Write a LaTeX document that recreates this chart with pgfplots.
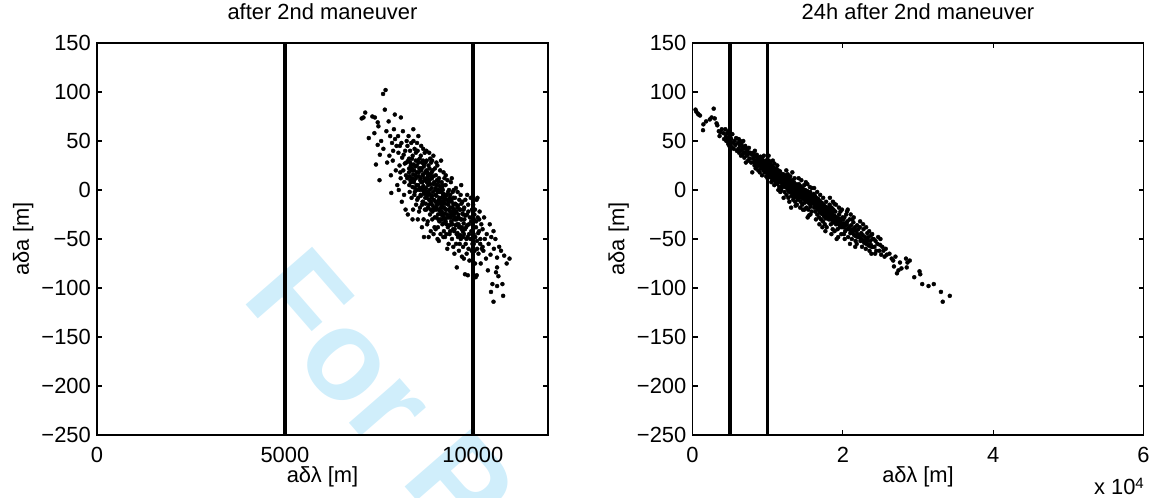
\documentclass[border=0pt]{standalone}
\usepackage{pgfplots}
\pgfplotsset{compat=1.18}
\usepackage{fontspec}
\setmainfont{Liberation Sans}
\definecolor{wm}{RGB}{208,238,251}
\newcommand{\fs}{\fontsize{21.9}{26}\selectfont}
\pgfplotsset{
 mystyle/.style={
  scale only axis, width=451pt, height=392pt, anchor=south west,
  ymin=-250, ymax=150,
  ytick={-250,-200,-150,-100,-50,0,50,100,150},
  yticklabels={−250,−200,−150,−100,−50,0,50,100,150},
  tick align=inside, major tick length=5pt,
  axis line style={line width=1.1pt},
  every tick/.style={black, line width=1.1pt},
  tick label style={font=\fs},
  yticklabel style={inner sep=0pt, xshift=-6pt},
  xticklabel style={inner sep=0pt, yshift=-12pt},
  label style={font=\fs},
  title style={font=\fs, at={(axis description cs:0.5,1.0459)}, anchor=base},
  xlabel style={at={(axis description cs:0.5,-0.1199)}, anchor=base},
  ylabel style={at={(axis description cs:-0.1508,0.5)}, anchor=base},
  xlabel={aδλ [m]}, ylabel={aδa [m]},
  scaled ticks=false,
 },
 dots/.style={only marks, mark=*, mark size=2pt, mark options={fill=black, draw=none}},
 vline/.style={black, line width=3.5pt, no marks},
}
\begin{document}
\begin{tikzpicture}
\path[use as bounding box] (0,0) rectangle (1154pt,498pt);
\begin{scope}
\clip (0,0) rectangle (1154pt,498pt);
\node[anchor=base west, inner sep=0pt, rotate=-49, text=wm, font=\fontsize{128}{128}\selectfont\bfseries] at (240.8pt,199.8pt) {For Peer Review};
\end{scope}

\begin{axis}[mystyle, at={(97pt,63pt)},
  xmin=0, xmax=12000, xtick={0,5000,10000}, xticklabels={0,5000,10000},
  title={after 2nd maneuver}]
\addplot[vline] coordinates {(5000,-250) (5000,150)};
\addplot[vline] coordinates {(10000,-250) (10000,150)};
\addplot[dots] coordinates {
(7043,73) (7090,74) (7137,79) (7232,53)
(7327,75) (7393,74) (7469,69) (7488,65) (7422,26) (7469,46) (7380,58)
(7526,36) (7517,10) (7611,98) (7678,102) (7658,82) (7560,50) (7700,60) (7620,42) (7720,28)
(7830,-3) (7924,77) (7800,55) (7850,48) (7880,40) (7900,62) (7950,20) (7780,35) (7970,45) (7820,15) (7990,5) (7870,30) (7930,52) (7760,70)
(8085,74) (8020,38) (8050,25) (8080,12) (8100,48) (8120,33) (8150,20) (8170,-5) (8200,40) (8230,28) (8010,55) (8060,45) (8140,60) (8180,8) (8220,15) (8240,50) (8030,0) (8110,-12) (8160,36) (8210,-20) (8070,18) (8190,27)
(8417,62) (8260,45) (8280,30) (8300,18) (8310,5) (8330,40) (8350,25) (8370,-8) (8390,12) (8400,35) (8420,50) (8440,20) (8460,2) (8480,30) (8490,-15) (8270,-25) (8290,55) (8320,-2) (8340,10) (8360,48) (8380,22) (8410,-20) (8430,8) (8450,42) (8470,15) (8255,12) (8305,32) (8395,-30) (8445,-5) (8485,38)
(8510,25) (8520,-10) (8530,40) (8545,5) (8560,18) (8570,-22) (8585,32) (8600,10) (8610,-5) (8625,45) (8640,22) (8650,-15) (8660,0) (8675,30) (8690,-30) (8700,26) (8700,-48) (8710,12) (8720,38) (8735,-8) (8745,18) (8515,48) (8535,-30) (8555,28) (8580,2) (8595,-18) (8615,35) (8630,8) (8645,-38) (8665,15) (8680,42) (8695,-2) (8725,-20) (8740,28) (8505,0) (8550,55) (8605,22) (8670,-12)
(8755,10) (8760,-20) (8770,30) (8780,-5) (8790,18) (8800,-32) (8810,5) (8820,25) (8830,-15) (8840,38) (8850,0) (8860,-25) (8870,15) (8880,-42) (8890,28) (8900,-8) (8910,12) (8920,-30) (8930,20) (8940,-2) (8950,35) (8960,-18) (8970,8) (8980,-38) (8990,22) (8765,40) (8785,-35) (8805,15) (8825,-48) (8845,10) (8865,32) (8885,-12) (8905,2) (8925,-22) (8945,14) (8965,-10) (8985,-28) (8995,0) (8775,8) (8835,-5) (8915,30) (8955,-45)
(9005,-5) (9015,15) (9025,-28) (9035,5) (9045,-15) (9055,25) (9061,-50) (9070,-38) (9080,0) (9090,-20) (9100,12) (9110,-32) (9120,-8) (9130,20) (9140,-45) (9150,-2) (9160,-25) (9170,8) (9180,-15) (9190,-35) (9200,0) (9210,-18) (9220,18) (9230,-42) (9240,-10) (9010,-40) (9030,28) (9050,-12) (9075,10) (9095,-52) (9115,-2) (9135,-22) (9155,30) (9175,-30) (9195,5) (9215,-48) (9235,-28) (9245,12) (9020,-18) (9085,-30) (9145,-12) (9205,-5)
(9255,-10) (9265,-30) (9275,5) (9285,-20) (9295,-45) (9305,-5) (9315,-25) (9325,10) (9335,-38) (9345,-15) (9355,-55) (9365,0) (9375,-28) (9385,-8) (9395,-42) (9405,-18) (9415,8) (9425,-32) (9435,-12) (9445,-50) (9455,-22) (9465,-2) (9475,-40) (9485,-15) (9495,-30) (9260,-48) (9280,15) (9300,-35) (9320,-60) (9340,-2) (9360,-20) (9380,-45) (9400,-5) (9420,-25) (9440,12) (9460,-35) (9480,-58) (9490,0)
(9505,-20) (9515,-40) (9525,-8) (9540,-30) (9555,-55) (9565,-15) (9573,-79) (9580,-35) (9595,-2) (9605,-48) (9615,-25) (9630,-62) (9640,-10) (9655,-38) (9665,-20) (9680,-50) (9690,5) (9700,-30) (9710,-68) (9720,-12) (9735,-42) (9745,-25) (9510,-65) (9530,-28) (9550,2) (9570,-45) (9590,-18) (9620,-35) (9650,-55) (9675,-5) (9705,-40) (9740,-58)
(9755,-20) (9765,-45) (9775,-30) (9791,-86) (9800,-10) (9810,-55) (9820,-38) (9835,-65) (9845,-25) (9860,-48) (9867,-87) (9875,-15) (9885,-60) (9895,-35) (9910,-72) (9920,-28) (9935,-50) (9945,-8) (9960,-42) (9970,-62) (9980,-20) (9990,-55) (9760,-70) (9850,-5) (9900,-45) (9955,-32)
(10010,-15) (10020,-45) (10030,-30) (10045,-62) (10055,-20) (10076,-89) (10085,-38) (10104,-87) (10110,-52) (10123,-8) (10130,-28) (10150,-65) (10165,-42) (10180,-22) (10195,-55) (10210,-75) (10225,-35) (10240,-60) (10060,-75) (10100,-10)
(10260,-40) (10280,-62) (10300,-28) (10320,-50) (10350,-70) (10370,-45) (10400,-82) (10420,-55) (10450,-35) (10470,-66) (10483,-104) (10490,-48)
(10521,-96) (10550,-42) (10550,-114) (10560,-60) (10600,-50) (10616,-84) (10645,-69) (10645,-79) (10645,-98) (10700,-58) (10680,-88)
(10787,-96) (10806,-108) (10834,-67) (10900,-75) (10976,-70) (10750,-62)
(8305,22) (8320,14) (8335,28) (8350,8) (8365,20) (8380,32) (8395,3) (8410,16) (8425,26) (8440,10) (8455,-2) (8470,24) (8485,12) (8500,5) (8515,18) (8530,30) (8545,-8) (8560,14) (8575,22) (8590,0)
(8605,12) (8615,-6) (8625,20) (8635,2) (8645,28) (8655,8) (8665,-12) (8675,16) (8685,4) (8695,24) (8705,-4) (8715,10) (8725,0) (8735,18) (8745,-14) (8755,2) (8765,20) (8775,-8) (8785,12) (8795,-2) (8805,-18) (8815,8) (8825,16) (8835,-10) (8845,22) (8855,-4) (8865,6) (8875,-20) (8885,12) (8895,-14) (8905,18) (8915,-6) (8935,-16) (8955,6) (8975,-20)
(9005,-12) (9015,2) (9025,-20) (9035,-6) (9045,10) (9055,-15) (9065,-2) (9075,-25) (9085,8) (9095,-10) (9105,-20) (9115,4) (9125,-14) (9135,-30) (9145,0) (9155,-18) (9165,-8) (9175,-22) (9185,2) (9195,-26) (9205,-12) (9215,-34) (9225,-4) (9235,-18) (9245,-8) (9255,-24) (9265,-14) (9275,-32) (9285,-6) (9295,-20) (9315,-10) (9335,-28) (9355,-12) (9375,-36) (9395,-22)
(9410,-28) (9425,-10) (9440,-35) (9455,-18) (9470,-26) (9485,-8) (9500,-42) (9515,-24) (9530,-14) (9545,-36) (9560,-22) (9575,-30) (9590,-44) (9605,-16) (9620,-28) (9635,-38) (9650,-20) (9665,-46) (9680,-30) (9695,-14) (9710,-38) (9725,-24) (9740,-48) (9755,-34) (9770,-18) (9790,-40) (9810,-26) (9830,-50) (9850,-36) (9880,-22)
(10005,-40) (10025,-55) (10040,-25) (10065,-48) (10090,-32) (10115,-60) (10140,-44) (10170,-30) (10200,-50) (10260,-58)
};
\end{axis}

\begin{axis}[mystyle, at={(692.5pt,63pt)},
  xmin=0, xmax=60000, xtick={0,20000,40000,60000}, xticklabels={0,2,4,6},
  title={24h after 2nd maneuver}]
\addplot[vline] coordinates {(5000,-250) (5000,150)};
\addplot[vline] coordinates {(10000,-250) (10000,150)};
\addplot[dots] coordinates {
(400,82) (500,80) (700,78) (800,77) (1000,76) (1450,67) (1400,61) (1800,70)
(2540,74) (2820,83) (2960,73) (2300,72) (3300,66) (3500,60) (3700,59) (3900,62) (3600,55) (3200,68)
(4100,58) (4200,52) (4370,62) (4450,55) (4500,50) (4600,58) (4700,53) (4750,47) (4800,60) (4850,51) (4900,45) (5000,55) (5050,49) (5150,52) (5200,44) (5300,57) (5400,48) (5500,42) (5600,50) (5700,46) (5800,53) (5900,40)
(6050,48) (6100,42) (6150,52) (6200,38) (6300,45) (6350,50) (6400,40) (6450,35) (6500,47) (6600,42) (6650,36) (6700,44) (6750,50) (6800,38) (6850,42) (6900,33) (7000,45) (7050,38) (7100,28) (7200,42) (7250,35) (7300,40) (7400,30) (7450,37) (7500,43) (7600,32) (7700,38) (7800,28) (7900,36) (7950,18)
(8050,32) (8100,38) (8150,28) (8200,35) (8250,25) (8300,40) (8350,30) (8400,22) (8450,34) (8500,28) (8550,36) (8600,24) (8650,31) (8700,27) (8750,20) (8800,33) (8850,25) (8900,30) (8950,18) (9000,28) (9050,34) (9100,22) (9150,30) (9200,26) (9250,15) (9300,31) (9350,24) (9400,28) (9450,20) (9500,35) (9550,25) (9600,18) (9650,28) (9700,22) (9750,30) (9800,14) (9850,24) (9900,20) (9950,27) (9980,12)
(10050,26) (10100,20) (10150,30) (10200,16) (10250,24) (10300,19) (10350,28) (10400,13) (10450,22) (10500,18) (10550,25) (10600,10) (10650,20) (10700,16) (10750,23) (10800,12) (10850,19) (10900,27) (10950,14) (11000,20) (11050,8) (11100,17) (11150,22) (11200,12) (11250,18) (11300,6) (11350,15) (11400,20) (11450,10) (11500,16) (11550,3) (11600,13) (11650,19) (11700,8) (11750,14) (11800,0) (11850,11) (11900,16) (11950,6) (10120,35) (10480,8) (10880,5) (11280,25) (11680,-2) (10020,14) (11420,0) (11980,13) (10680,30)
(12050,10) (12100,16) (12150,5) (12200,12) (12250,-2) (12300,9) (12350,15) (12400,3) (12450,11) (12500,-5) (12550,7) (12600,13) (12650,1) (12700,8) (12750,-8) (12800,5) (12850,11) (12900,-2) (12950,6) (13000,14) (13050,0) (13100,8) (13150,-6) (13200,4) (13250,10) (13300,-3) (13350,5) (13400,-10) (13450,2) (13500,8) (13550,-5) (13600,3) (13650,-12) (13700,0) (13750,6) (13800,-7) (13850,2) (13900,-4) (13950,5) (12120,-8) (12480,20) (12880,-12) (13280,18) (13580,12) (13880,-15) (12680,16) (13120,-18) (13720,-16) (12020,3) (13480,-8)
(14050,3) (14100,-3) (14150,6) (14200,-8) (14250,0) (14300,-5) (14350,4) (14400,-12) (14450,-2) (14500,-7) (14550,2) (14600,-15) (14650,-4) (14700,1) (14750,-9) (14800,-3) (14850,5) (14900,-13) (14950,-6) (15000,0) (15050,-10) (15100,-4) (15150,-18) (15200,-7) (15250,-1) (15300,-12) (15350,-5) (15400,-20) (15450,-9) (15500,-3) (15550,-14) (15600,-8) (15650,-2) (15700,-17) (15750,-10) (15800,-5) (15850,-22) (15900,-12) (15950,-7) (14120,12) (14480,10) (14880,-20) (15280,6) (15680,-25) (14320,-18) (15080,8) (15480,-26) (15880,2) (14680,-20) (14020,-10) (15320,-28) (15620,3)
(16050,-8) (16100,-14) (16150,-4) (16200,-18) (16250,-10) (16300,-6) (16350,-22) (16400,-13) (16450,-8) (16500,-18) (16550,-12) (16600,-25) (16650,-15) (16700,-9) (16750,-20) (16800,-14) (16850,-28) (16900,-17) (16950,-11) (17000,-22) (17050,-15) (17100,-30) (17150,-19) (17200,-13) (17250,-24) (17300,-18) (17350,-32) (17400,-22) (17450,-15) (17500,-27) (17550,-20) (17600,-35) (17650,-24) (17700,-17) (17750,-29) (17800,-22) (17850,-38) (17900,-26) (17950,-19) (16180,2) (16580,-2) (16980,-5) (17380,-8) (17780,-12) (16420,-30) (16880,-35) (17280,-38) (17680,-42)
(18050,-25) (18100,-18) (18150,-30) (18200,-22) (18250,-15) (18300,-28) (18350,-20) (18400,-35) (18450,-25) (18500,-18) (18550,-30) (18600,-23) (18650,-40) (18700,-28) (18750,-20) (18800,-33) (18850,-26) (18900,-42) (18950,-30) (19000,-22) (19100,-35) (19200,-28) (19300,-40) (19400,-32) (19500,-25) (19600,-38) (19700,-30) (19800,-45) (19900,-35) (19950,-28) (18280,-8) (18680,-12) (19080,-15) (19480,-18) (18480,-45) (19180,-50) (19680,-22) (19880,-20) (18880,-14) (19380,-48)
(20050,-30) (20100,-38) (20200,-28) (20300,-42) (20400,-34) (20450,-25) (20500,-40) (20600,-32) (20700,-48) (20800,-38) (20900,-30) (21000,-44) (21100,-36) (21200,-50) (21300,-40) (21400,-33) (21500,-46) (21600,-38) (21700,-52) (21800,-42) (21900,-36) (21950,-48) (20250,-50) (20650,-20) (21050,-25) (21450,-28) (21850,-55) (20950,-55) (20150,-45) (21250,-30) (21650,-58) (20550,-22)
(22050,-40) (22150,-48) (22250,-38) (22350,-52) (22450,-44) (22550,-58) (22650,-46) (22750,-40) (22850,-54) (22950,-48) (23050,-60) (23150,-50) (23250,-44) (23350,-56) (23450,-48) (23550,-62) (23650,-52) (23750,-46) (23850,-58) (23950,-50) (22300,-32) (22700,-35) (23100,-38) (23500,-42) (23900,-45) (23800,-65)
(24100,-50) (24200,-58) (24350,-52) (24450,-62) (24600,-55) (24700,-48) (24850,-62) (24950,-56) (25100,-66) (25250,-58) (25400,-62) (25550,-68) (25700,-60) (25850,-66) (24300,-65) (25000,-50)
(26200,-65) (26500,-70) (26700,-72) (26800,-78) (27000,-68) (27200,-85) (27400,-82) (27600,-74) (27800,-80)
(28400,-70) (28600,-74) (28500,-79) (28900,-72) (29500,-89) (30200,-83) (30300,-86) (30560,-96) (31400,-98) (32100,-96) (33050,-104) (33290,-114) (34230,-108)
(9025,31) (9125,26) (9225,33) (9325,24) (9425,29) (9525,22) (9625,27) (9725,19) (9825,25) (9925,21) (10025,23) (10125,18) (10225,25) (10325,17) (10425,20) (10525,15) (10625,22) (10725,13) (10825,18) (10925,10) (11125,15) (11325,11) (11525,9) (11725,12) (11925,4)
(12075,12) (12175,8) (12275,14) (12375,6) (12475,3) (12575,10) (12675,4) (12775,-1) (12875,7) (12975,2) (13075,4) (13175,-2) (13275,1) (13375,-4) (13475,3) (13575,-2) (13675,-6) (13775,2) (13875,-1) (13975,-6) (14075,-2) (14175,0) (14275,-6) (14375,-3) (14475,-8) (14575,-1) (14675,-7) (14775,-4) (14875,-9) (14975,-2) (15175,-8) (15375,-12) (15575,-6) (15775,-14) (15975,-11)
(16075,-12) (16225,-8) (16325,-16) (16475,-13) (16625,-19) (16775,-15) (16925,-22) (17075,-18) (17225,-16) (17375,-25) (17525,-21) (17675,-28) (17825,-24) (17975,-22) (18125,-27) (18275,-23) (18375,-30) (18525,-26) (18675,-33) (18825,-29) (18975,-27) (19125,-32) (19275,-34) (19425,-29) (19575,-36) (19725,-33) (19875,-38) (18025,-18) (17125,-24) (16875,-12)
(20125,-34) (20325,-36) (20525,-35) (20725,-40) (20925,-40) (21125,-42) (21325,-44) (21525,-41) (21725,-47) (21925,-45) (22125,-46) (22325,-49) (22525,-50) (22725,-52) (22925,-52) (23125,-55) (23325,-52) (23525,-57) (23725,-56) (23925,-58)
};
\end{axis}
\node[anchor=base east, inner sep=0pt, font=\fs] at (1144pt,4pt) {x 10\raisebox{6pt}{\fontsize{15}{15}\selectfont 4}};
\end{tikzpicture}
\end{document}
